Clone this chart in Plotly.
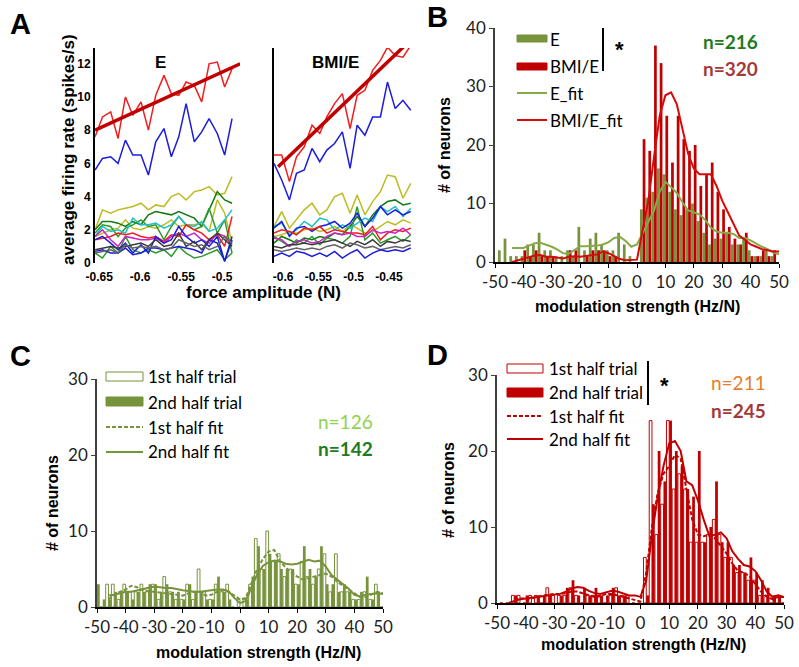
import plotly.graph_objects as go

W, H = 799, 667
def px(x): return x / W
def py(y): return 1 - y / H

# ---------------- Panel A data ----------------
force_E = [-0.655, -0.646, -0.636, -0.627, -0.618, -0.609, -0.599, -0.590, -0.581, -0.571,
           -0.562, -0.553, -0.544, -0.534, -0.525, -0.516, -0.506, -0.497, -0.488]
E_red = [7.6, 8.8, 9.1, 7.5, 10.0, 8.9, 9.7, 8.0, 10.1, 11.3, 10.2, 10.1, 10.9, 10.7, 9.7, 12.0, 12.1, 10.6, 11.7]
E_blue = [5.6, 6.3, 6.4, 6.0, 7.4, 6.5, 6.5, 5.3, 7.3, 8.1, 6.4, 7.6, 9.6, 7.3, 7.9, 8.7, 7.8, 6.5, 8.7]
E_yellow1 = [2.0, 3.2, 3.0, 3.2, 3.3, 3.4, 3.6, 3.2, 3.5, 3.4, 4.0, 4.2, 3.8, 4.3, 4.4, 4.6, 4.1, 4.2, 5.2]
E_yellow2 = [1.6, 1.8, 2.0, 2.1, 2.6, 2.1, 2.0, 2.2, 2.1, 2.3, 2.6, 2.2, 2.3, 2.3, 2.4, 1.9, 3.8, 3.0, 1.2]
E_dkgreen = [2.0, 2.5, 2.5, 2.4, 2.2, 2.5, 2.3, 2.9, 3.1, 3.0, 2.9, 3.1, 2.9, 2.7, 2.2, 3.2, 4.3, 3.8, 3.6]
E_green = [1.8, 2.3, 2.2, 1.6, 2.1, 2.3, 2.6, 2.2, 2.3, 1.4, 2.2, 2.8, 2.3, 2.0, 2.2, 3.3, 1.8, 2.6, 0.6]
E_green2 = [0.6, 0.3, 1.0, 0.6, 1.6, 0.8, 0.6, 0.8, 0.6, 0.8, 0.4, 1.0, 0.6, 0.3, 0.4, 0.6, 0.8, 0.2, 0.6]
E_cyan = [1.6, 2.2, 1.9, 2.0, 1.8, 2.7, 2.3, 2.3, 2.4, 2.1, 2.3, 2.8, 2.3, 2.2, 2.5, 1.9, 2.1, 2.6, 3.2]
E_red2 = [1.4, 1.5, 1.6, 1.8, 1.7, 1.8, 1.6, 1.5, 1.6, 1.3, 1.7, 1.6, 2.3, 2.0, 1.8, 1.4, 1.7, 1.0, 2.8]
E_magenta = [1.6, 2.0, 1.4, 1.0, 1.6, 1.5, 1.4, 1.4, 1.5, 1.2, 1.6, 1.8, 1.6, 1.8, 1.4, 1.2, 1.8, 1.6, 1.1]
E_blue2 = [1.4, 1.6, 1.2, 0.8, 1.2, 0.6, 1.1, 0.6, 1.6, 1.2, 1.4, 2.2, 1.6, 1.2, 1.4, 1.0, 1.6, 0.1, 1.4]
E_blue3 = [0.7, 0.8, 0.6, 0.6, 0.9, 0.5, 0.6, 0.9, 0.9, 0.8, 0.9, 1.0, 0.9, 0.8, 0.6, 1.4, 1.2, 0.1, 1.6]
E_gray1 = [0.8, 0.9, 1.0, 0.9, 1.0, 1.1, 1.2, 1.0, 1.4, 1.0, 1.1, 1.8, 1.0, 1.3, 0.8, 1.4, 1.8, 1.4, 1.0]
E_gray2 = [0.6, 0.7, 0.8, 0.6, 1.1, 0.9, 1.0, 0.9, 1.0, 0.8, 0.9, 1.4, 1.2, 1.0, 1.1, 0.8, 1.0, 1.6, 1.2]
E_fit_x = [-0.655, -0.478]
E_fit_y = [8.0, 12.0]

force_B = [-0.613, -0.602, -0.591, -0.581, -0.570, -0.559, -0.548, -0.538, -0.527, -0.516,
           -0.505, -0.495, -0.484, -0.473, -0.462, -0.452, -0.441, -0.430, -0.419]
B_red = [6.5, 6.5, 4.9, 6.4, 7.0, 8.3, 7.8, 8.8, 9.6, 10.2, 8.1, 10.1, 10.4, 11.6, 12.2, 13.0, 12.5, 12.4, 13.1]
B_blue = [6.0, 5.0, 3.8, 5.4, 5.6, 6.9, 6.1, 6.8, 7.2, 7.9, 5.7, 8.3, 7.7, 8.8, 8.8, 10.9, 9.3, 9.8, 9.2]
B_yellow1 = [2.2, 3.1, 2.1, 2.6, 3.2, 3.6, 2.9, 3.2, 4.0, 4.2, 3.0, 4.1, 2.9, 3.7, 4.3, 5.3, 5.2, 3.9, 4.8]
B_yellow2 = [1.6, 1.7, 1.9, 1.8, 2.0, 2.1, 1.9, 2.0, 2.2, 1.9, 2.3, 2.1, 1.8, 1.9, 2.2, 2.5, 2.3, 2.6, 2.4]
B_dkgreen = [1.2, 1.6, 1.4, 1.2, 1.5, 1.4, 1.6, 1.5, 1.8, 1.7, 2.2, 2.8, 2.2, 2.9, 3.4, 3.7, 3.8, 3.5, 3.6]
B_green = [1.6, 1.3, 1.0, 1.4, 1.2, 1.6, 1.1, 1.5, 1.4, 1.2, 1.6, 3.4, 1.4, 1.8, 1.2, 1.4, 1.6, 1.3, 1.7]
B_cyan = [2.2, 2.4, 1.7, 2.0, 2.5, 2.2, 2.7, 2.6, 2.0, 2.3, 2.1, 2.4, 2.7, 2.5, 3.4, 3.1, 3.4, 2.8, 3.3]
B_blue2 = [2.1, 2.5, 1.6, 2.1, 2.2, 1.9, 2.2, 2.3, 2.5, 2.1, 2.4, 3.0, 2.2, 2.7, 3.4, 2.9, 3.2, 2.9, 3.1]
B_red2 = [1.8, 2.0, 1.9, 1.7, 2.1, 2.0, 2.2, 1.8, 2.0, 1.9, 1.8, 1.8, 1.7, 2.2, 1.4, 1.8, 2.0, 1.9, 2.1]
B_magenta = [1.5, 1.4, 1.0, 1.3, 1.4, 1.2, 1.3, 1.6, 1.8, 1.7, 1.8, 1.6, 1.6, 2.0, 1.8, 1.9, 1.8, 2.1, 1.7]
B_gray1 = [1.0, 0.9, 1.1, 1.1, 1.2, 1.1, 1.2, 1.3, 1.4, 1.2, 1.0, 1.3, 1.1, 1.4, 1.0, 1.3, 1.2, 1.4, 1.3]
B_gray2 = [0.8, 0.7, 0.8, 0.9, 0.8, 0.9, 0.8, 1.0, 1.1, 0.9, 1.2, 1.1, 0.9, 1.0, 0.8, 0.9, 1.0, 0.9, 1.1]
B_blue3 = [0.4, 0.6, 0.4, 0.7, 0.6, 0.4, 0.6, 0.4, 0.7, 0.3, 0.6, 0.8, 0.3, 0.6, 0.8, 0.7, 0.8, 0.7, 0.9]
B_fit_x = [-0.607, -0.415]
B_fit_y = [5.8, 13.6]

# ---------------- Histogram data (bins of 2 Hz/N) ----------------
bins = [-50, -48, -46, -44, -42, -40, -38, -36, -34, -32, -30, -28, -26, -24, -22, -20, -18, -16, -14, -12,
        -10, -8, -6, -4, -2, 0, 2, 4, 6, 8, 10, 12, 14, 16, 18, 20, 22, 24, 26, 28,
        30, 32, 34, 36, 38, 40, 42, 44, 46, 48, 50]
hist_tickvals = [-50, -40, -30, -20, -10, 0, 10, 20, 30, 40, 50]
hist_ticktext = ['-50', '-40', '-30', '-20', '-10', '0', '10', '20', '30', '40', '50']

histB_E = [0, 2, 4, 1, 1, 1, 3, 3, 5, 2, 2, 1, 1, 2, 1, 6, 2, 4, 5, 3,
           2, 2, 5, 3, 1, 0, 9, 11, 12, 16, 15, 12, 9, 8, 9, 10, 7, 5, 3, 4,
           4, 5, 3, 3, 4, 2, 1, 1, 2, 1, 0]
histB_BMI = [0, 0, 0, 0, 0, 2, 1, 2, 1, 1, 1, 0, 0, 2, 2, 0, 1, 2, 2, 2,
             1, 1, 0, 0, 0, 0, 21, 19, 37, 34, 25, 17, 25, 21, 19, 20, 13, 15, 17, 12,
             9, 6, 4, 3, 5, 1, 1, 2, 1, 2, 0]
fitB_E = [None, None, None, 2.4, 2.4, 2.4, 2.8, 3.2, 3.3, 3.0, 2.6, 2.1, 1.5, 1.4, 2.0, 2.7, 2.7, 2.7, 2.8, 3.0,
          3.4, 4.1, 4.3, 3.6, 2.6, 3.0, 5.0, 6.8, 8.8, 12.0, 13.7, 12.8, 11.8, 10.2, 8.8, 8.5, 8.1, 7.2, 5.9, 5.2,
          5.0, 5.0, 4.8, 4.1, 4.1, 3.7, 3.1, 2.6, 2.2, 1.6, 1.3]
fitB_BMI = [None, None, None, 0.0, 0.3, 0.6, 0.9, 1.1, 1.2, 0.9, 0.9, 0.7, 0.6, 0.9, 1.0, 0.9, 1.0, 1.2, 1.3, 1.8,
            1.5, 1.0, 0.5, 0.3, 0.3, 0.4, 5.5, 10.5, 18.0, 25.0, 28.5, 29.0, 27.0, 22.5, 18.5, 16.0, 15.0, 15.0, 15.0, 13.0,
            10.5, 8.5, 6.5, 4.5, 3.8, 3.0, 2.6, 2.2, 2.0, 1.8, 1.8]

histC_1st = [0, 0, 3, 3, 1, 3, 2, 2, 3, 2, 3, 1, 4, 2, 1, 1, 3, 1, 5, 2,
             1, 3, 2, 3, 0, 1, 1, 3, 9, 5, 10, 6, 7, 4, 5, 3, 6, 4, 3, 5,
             7, 2, 7, 2, 2, 1, 1, 2, 1, 3, 0]
histC_2nd = [3, 1, 1, 2, 2, 2, 1, 2, 2, 3, 3, 2, 3, 2, 2, 1, 3, 2, 2, 1,
             1, 4, 2, 1, 0, 0, 1, 4, 8, 5, 7, 6, 5, 5, 5, 3, 8, 5, 4, 8,
             3, 3, 2, 3, 2, 1, 2, 4, 1, 2, 0]
fitC_1st = [None, None, 1.0, 1.6, 2.0, 2.3, 2.8, 2.6, 2.2, 2.1, 2.0, 1.9, 1.8, 1.7, 1.6, 1.5, 1.8, 2.0, 2.0, 1.5,
            1.6, 2.0, 2.2, 2.0, 1.5, 1.0, 1.2, 3.0, 5.0, 6.3, 7.3, 7.5, 6.0, 5.2, 4.5, 4.0, 3.6, 3.8, 4.0, 4.2,
            4.4, 4.0, 3.3, 2.8, 2.3, 1.8, 1.3, 1.3, 1.7, 2.0, 1.8]
fitC_2nd = [None, None, 1.5, 1.6, 1.8, 2.0, 2.0, 2.2, 2.4, 2.6, 2.7, 2.6, 2.5, 2.5, 2.3, 2.2, 2.1, 2.0, 2.0, 2.1,
            2.2, 2.3, 2.3, 2.1, 1.2, 0.5, 0.8, 2.6, 4.3, 5.4, 5.9, 6.1, 6.0, 5.7, 5.6, 5.7, 6.0, 6.2, 6.0, 6.1,
            5.3, 4.2, 3.6, 3.0, 2.4, 1.6, 1.4, 1.6, 1.7, 1.8, 1.7]

histD_1st = [0, 0, 0, 1, 1, 0, 1, 1, 0, 2, 1, 1, 1, 2, 1, 0, 1, 1, 1, 0,
             1, 2, 1, 1, 0, 0, 6, 24, 9, 13, 24, 15, 17, 15, 8, 8, 8, 9, 11, 9,
             6, 6, 4, 4, 3, 3, 1, 1, 0, 1, 0]
histD_2nd = [0, 0, 0, 1, 0, 1, 0, 1, 1, 1, 0, 1, 2, 3, 1, 2, 1, 2, 1, 1,
             2, 1, 1, 0, 0, 0, 1, 13, 20, 16, 24, 20, 18, 15, 14, 20, 8, 10, 16, 8,
             8, 5, 5, 4, 6, 4, 3, 2, 1, 1, 0]
fitD_1st = [None, None, None, 0.5, 0.6, 0.6, 0.6, 0.8, 1.0, 1.1, 1.2, 1.2, 1.3, 1.5, 1.5, 1.3, 1.0, 0.8, 0.9, 1.2,
            1.2, 1.0, 0.9, 0.7, 0.4, 0.2, 4.0, 10.0, 14.5, 17.0, 18.0, 19.5, 19.0, 15.0, 11.0, 9.0, 8.8, 9.0, 8.5, 7.5,
            6.5, 5.2, 4.2, 4.0, 3.5, 2.5, 1.5, 0.8, 0.5, 0.8, 0.8]
fitD_2nd = [None, None, 0.0, 0.3, 0.5, 0.6, 0.7, 0.8, 0.9, 1.0, 1.1, 1.2, 1.5, 1.9, 2.1, 2.0, 1.6, 1.3, 1.2, 1.4,
            1.6, 1.5, 1.2, 1.0, 1.0, 0.8, 3.0, 9.0, 14.0, 18.0, 21.0, 21.3, 20.0, 16.0, 15.5, 13.5, 11.0, 8.8, 9.0, 9.3,
            8.5, 6.8, 5.8, 5.0, 4.8, 4.2, 3.0, 1.5, 0.8, 1.0, 0.8]

# ---------------- colours ----------------
C_RED = '#f01e1e'; C_BLUE = '#1c1cdc'; C_YEL = '#bcbc22'; C_DKG = '#137a13'; C_GRN = '#2c9a2c'
C_CYAN = '#20c0c8'; C_MAG = '#c824c8'; C_GRAY = '#3c3c3c'; C_GRAY2 = '#646464'
OLIVE = '#77933c'; DARKRED = '#c00000'; FITRED = '#d60a0a'; FITGRN = '#86aa46'
DASH = '4px,2px'

fig = go.Figure()

E_lines = [(E_yellow1, C_YEL), (E_yellow2, C_YEL), (E_dkgreen, C_DKG), (E_green, C_GRN), (E_green2, C_GRN),
           (E_cyan, C_CYAN), (E_red2, C_RED), (E_magenta, C_MAG), (E_blue2, C_BLUE), (E_blue3, C_BLUE),
           (E_gray1, C_GRAY), (E_gray2, C_GRAY2), (E_blue, C_BLUE), (E_red, C_RED)]
for ys, col in E_lines:
    fig.add_trace(go.Scatter(x=force_E, y=ys, mode='lines', line=dict(color=col, width=1.5),
                             xaxis='x', yaxis='y', showlegend=False, hoverinfo='skip'))
fig.add_trace(go.Scatter(x=E_fit_x, y=E_fit_y, mode='lines', line=dict(color=DARKRED, width=3.5),
                         xaxis='x', yaxis='y', showlegend=False))

B_lines = [(B_yellow1, C_YEL), (B_yellow2, C_YEL), (B_dkgreen, C_DKG), (B_green, C_GRN), (B_cyan, C_CYAN),
           (B_blue2, C_BLUE), (B_red2, C_RED), (B_magenta, C_MAG), (B_gray1, C_GRAY), (B_gray2, C_GRAY2),
           (B_blue3, C_BLUE), (B_blue, C_BLUE), (B_red, C_RED)]
for ys, col in B_lines:
    fig.add_trace(go.Scatter(x=force_B, y=ys, mode='lines', line=dict(color=col, width=1.5),
                             xaxis='x2', yaxis='y2', showlegend=False, hoverinfo='skip'))
fig.add_trace(go.Scatter(x=B_fit_x, y=B_fit_y, mode='lines', line=dict(color=DARKRED, width=3.5),
                         xaxis='x2', yaxis='y2', showlegend=False))

# Panel B
fig.add_trace(go.Bar(x=bins, y=histB_E, marker=dict(color=OLIVE, line=dict(width=0)), offsetgroup='a',
                     xaxis='x3', yaxis='y3', showlegend=False))
fig.add_trace(go.Bar(x=bins, y=histB_BMI, marker=dict(color=DARKRED, line=dict(width=0)), offsetgroup='b',
                     xaxis='x3', yaxis='y3', showlegend=False))
fig.add_trace(go.Scatter(x=bins, y=fitB_E, mode='lines', line=dict(color=FITGRN, width=2),
                         xaxis='x3', yaxis='y3', showlegend=False))
fig.add_trace(go.Scatter(x=bins, y=fitB_BMI, mode='lines', line=dict(color=FITRED, width=2),
                         xaxis='x3', yaxis='y3', showlegend=False))

# Panel C
fig.add_trace(go.Bar(x=bins, y=histC_1st, marker=dict(color='white', line=dict(width=1, color=OLIVE)),
                     offsetgroup='a', xaxis='x4', yaxis='y4', showlegend=False))
fig.add_trace(go.Bar(x=bins, y=histC_2nd, marker=dict(color=OLIVE, line=dict(width=0)),
                     offsetgroup='b', xaxis='x4', yaxis='y4', showlegend=False))
fig.add_trace(go.Scatter(x=bins, y=fitC_1st, mode='lines', line=dict(color=OLIVE, width=2, dash=DASH),
                         xaxis='x4', yaxis='y4', showlegend=False))
fig.add_trace(go.Scatter(x=bins, y=fitC_2nd, mode='lines', line=dict(color=OLIVE, width=2),
                         xaxis='x4', yaxis='y4', showlegend=False))

# Panel D
fig.add_trace(go.Bar(x=bins, y=histD_1st, marker=dict(color='white', line=dict(width=1, color=DARKRED)),
                     offsetgroup='a', xaxis='x5', yaxis='y5', showlegend=False))
fig.add_trace(go.Bar(x=bins, y=histD_2nd, marker=dict(color=DARKRED, line=dict(width=0)),
                     offsetgroup='b', xaxis='x5', yaxis='y5', showlegend=False))
fig.add_trace(go.Scatter(x=bins, y=fitD_1st, mode='lines', line=dict(color=DARKRED, width=2, dash=DASH),
                         xaxis='x5', yaxis='y5', showlegend=False))
fig.add_trace(go.Scatter(x=bins, y=fitD_2nd, mode='lines', line=dict(color=DARKRED, width=2),
                         xaxis='x5', yaxis='y5', showlegend=False))

ARIAL = 'Liberation Sans'
CAL = 'Lato'
boldA = dict(family=ARIAL, size=12, color='black', weight='bold')
histtick = dict(family=CAL, size=17, color='#222222')

hist_x = dict(range=[-50, 50], tickvals=hist_tickvals, ticktext=hist_ticktext, tickangle=0,
              showline=True, linecolor='black', linewidth=1.5, ticks='outside', ticklen=4, tickcolor='black',
              tickfont=histtick, showgrid=False, zeroline=False, automargin=False)
hist_y = dict(showline=True, linecolor='#404040', linewidth=1.5, ticks='outside', ticklen=4, tickcolor='#404040',
              tickfont=histtick, showgrid=False, zeroline=False, automargin=False)

fig.update_layout(
    width=W, height=H, autosize=False, margin=dict(l=0, r=0, t=0, b=0, pad=0, autoexpand=False),
    paper_bgcolor='white', plot_bgcolor='rgba(0,0,0,0)',
    barmode='group', bargap=0.04, bargroupgap=0, showlegend=False,
    font=dict(family=ARIAL, color='black'),
    xaxis=dict(domain=[px(95), px(240)], range=[-0.6551, -0.4783], tickvals=[-0.65, -0.6, -0.55, -0.5],
               ticktext=['-0.65', '-0.6', '-0.55', '-0.5'], showline=False, ticks='', tickfont=boldA,
               ticklabelstandoff=5, showgrid=False, zeroline=False, anchor='y', automargin=False),
    yaxis=dict(domain=[py(263), py(48)], range=[0, 12.95], tickvals=[0, 2, 4, 6, 8, 10, 12], showline=True,
               linecolor='black', linewidth=2, ticks='', tickfont=boldA, showgrid=False, zeroline=False,
               anchor='x', automargin=False),
    xaxis2=dict(domain=[px(274), px(412)], range=[-0.6129, -0.4172], tickvals=[-0.6, -0.55, -0.5, -0.45],
                ticktext=['-0.6', '-0.55', '-0.5', '-0.45'], showline=False, ticks='', tickfont=boldA,
                ticklabelstandoff=5, showgrid=False, zeroline=False, anchor='y2', automargin=False),
    yaxis2=dict(domain=[py(263), py(48)], range=[0, 12.95], showticklabels=False, showline=True,
                linecolor='black', linewidth=2, ticks='', showgrid=False, zeroline=False, anchor='x2',
                automargin=False),
    xaxis3=dict(domain=[px(495), px(779)], anchor='y3', **hist_x),
    yaxis3=dict(domain=[py(262), py(28)], range=[0, 40], tickvals=[0, 10, 20, 30, 40], anchor='x3', **hist_y),
    xaxis4=dict(domain=[px(97), px(383)], anchor='y4', **hist_x),
    yaxis4=dict(domain=[py(607), py(379)], range=[0, 30], tickvals=[0, 10, 20, 30], anchor='x4', **hist_y),
    xaxis5=dict(domain=[px(497), px(784)], anchor='y5', **hist_x),
    yaxis5=dict(domain=[py(603), py(375)], range=[0, 30], tickvals=[0, 10, 20, 30], anchor='x5', **hist_y),
)

ann = []
def text(x, y, s, size, family=ARIAL, bold=False, color='black', xanchor='center', angle=0):
    ann.append(dict(x=px(x), y=py(y), xref='paper', yref='paper', text=s, showarrow=False,
                    xanchor=xanchor, yanchor='middle', textangle=angle,
                    font=dict(family=family, size=size, color=color, weight='bold' if bold else 'normal')))

# panel letters
text(20, 24, 'A', 29, bold=True)
text(437, 17, 'B', 29, bold=True)
text(20, 356, 'C', 29, bold=True)
text(437, 355, 'D', 29, bold=True)

# Panel A texts
text(160, 63, 'E', 17, bold=True)
text(335, 63, 'BMI/E', 17, bold=True)
text(68, 150, 'average firing rate (spikes/s)', 17, bold=True, angle=-90)
text(263, 292, 'force amplitude (N)', 17, bold=True)

# Panel B texts
text(445, 145, '# of neurons', 16, bold=True, angle=-90)
text(637, 306, 'modulation strength (Hz/N)', 16, bold=True)
text(730, 42, 'n=216', 19, family=CAL, bold=True, color='#1e7b1e')
text(730, 69, 'n=320', 19, family=CAL, bold=True, color='#a33a3a')
# Panel C texts
text(52, 503, '# of neurons', 16, bold=True, angle=-90)
text(258, 652, 'modulation strength (Hz/N)', 16, bold=True)
text(345, 421, 'n=126', 19, family=CAL, color='#92d050')
text(345, 448, 'n=142', 19, family=CAL, bold=True, color='#1e7b1e')
# Panel D texts
text(448, 490, '# of neurons', 16, bold=True, angle=-90)
text(643, 644, 'modulation strength (Hz/N)', 16, bold=True)
text(738, 382, 'n=211', 19, family=CAL, color='#e57e2c')
text(738, 410, 'n=245', 19, family=CAL, bold=True, color='#a33a3a')

shapes = []
def rect(x0, y0, x1, y1, fill, line):
    shapes.append(dict(type='rect', xref='paper', yref='paper', x0=px(x0), x1=px(x1), y0=py(y1), y1=py(y0),
                       fillcolor=fill, line=dict(color=line, width=1)))
def hline(x0, x1, y, color, dash='solid', width=2):
    shapes.append(dict(type='line', xref='paper', yref='paper', x0=px(x0), x1=px(x1), y0=py(y), y1=py(y),
                       line=dict(color=color, width=width, dash=dash)))
def vline(x, y0, y1):
    shapes.append(dict(type='line', xref='paper', yref='paper', x0=px(x), x1=px(x), y0=py(y0), y1=py(y1),
                       line=dict(color='black', width=2)))

LEG = 17
# Legend B
rect(517, 35, 547, 42, OLIVE, OLIVE)
rect(517, 63, 547, 70, DARKRED, DARKRED)
hline(517, 547, 93, FITGRN)
hline(517, 547, 120, FITRED)
text(548, 39, 'E', LEG, family=CAL, xanchor='left')
text(548, 66, 'BMI/E', LEG, family=CAL, xanchor='left')
text(548, 93, 'E_fit', LEG, family=CAL, xanchor='left')
text(548, 120, 'BMI/E_fit', LEG, family=CAL, xanchor='left')
vline(603, 28, 71)
text(619, 50, '*', 22, bold=True)

# Legend C
rect(106, 372, 143, 381, 'white', OLIVE)
rect(106, 397, 143, 406, OLIVE, OLIVE)
hline(106, 143, 427, OLIVE, dash=DASH)
hline(106, 143, 452, OLIVE)
text(146, 376, '1st half trial', LEG, family=CAL, xanchor='left')
text(146, 402, '2nd half trial', LEG, family=CAL, xanchor='left')
text(146, 427, '1st half fit', LEG, family=CAL, xanchor='left')
text(146, 452, '2nd half fit', LEG, family=CAL, xanchor='left')

# Legend D
rect(507, 364, 543, 373, 'white', DARKRED)
rect(507, 388, 543, 397, DARKRED, DARKRED)
hline(507, 543, 416, DARKRED, dash=DASH)
hline(507, 543, 439, DARKRED)
text(547, 368, '1st half trial', LEG, family=CAL, xanchor='left')
text(547, 392, '2nd half trial', LEG, family=CAL, xanchor='left')
text(547, 416, '1st half fit', LEG, family=CAL, xanchor='left')
text(547, 439, '2nd half fit', LEG, family=CAL, xanchor='left')
vline(648, 361, 405)
text(664, 385, '*', 22, bold=True)

fig.update_layout(annotations=ann, shapes=shapes)
fig.write_html('out.html', config={'displayModeBar': False},
               post_script="document.body.style.margin='0px';document.body.style.padding='0px';"
                           "document.body.style.overflow='hidden';")
